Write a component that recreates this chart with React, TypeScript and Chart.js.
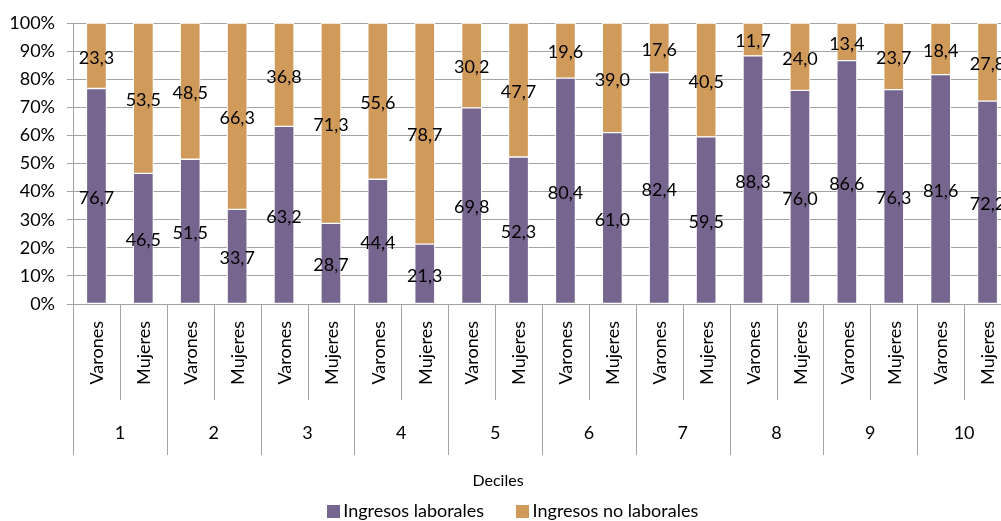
import React, { useEffect, useRef } from 'react';
import { Chart, registerables } from 'chart.js';

Chart.register(...registerables);

// ---- data ----
const deciles = ['1', '2', '3', '4', '5', '6', '7', '8', '9', '10'];
const sexes = ['Varones', 'Mujeres'];
const categoryLabels = deciles.flatMap(() => sexes);
const categoryDeciles = deciles.flatMap((d) => sexes.map(() => d));
const ingresosLaborales = [
  76.7, 46.5, 51.5, 33.7, 63.2, 28.7, 44.4, 21.3, 69.8, 52.3,
  80.4, 61.0, 82.4, 59.5, 88.3, 76.0, 86.6, 76.3, 81.6, 72.2,
];
const ingresosNoLaborales = [
  23.3, 53.5, 48.5, 66.3, 36.8, 71.3, 55.6, 78.7, 30.2, 47.7,
  19.6, 39.0, 17.6, 40.5, 11.7, 24.0, 13.4, 23.7, 18.4, 27.8,
];
const seriesNames = ['Ingresos laborales', 'Ingresos no laborales'];
const xAxisTitle = 'Deciles';
const yTickStep = 10;

// ---- styles ----
const PURPLE = '#76668F';
const TAN = '#D09A5B';
const GRID = '#a3a3a3';
const FONT = 'Lato, "Open Sans", sans-serif';
const TEXT = '#000000';

const fmt = (v: number) => v.toFixed(1).replace('.', ',');

const customPlugin = {
  id: 'customDraw',
  afterDatasetsDraw(chart: any) {
    const ctx = chart.ctx;
    ctx.save();
    ctx.font = `18px ${FONT}`;
    ctx.fillStyle = TEXT;
    ctx.textAlign = 'center';
    ctx.textBaseline = 'middle';
    chart.data.datasets.forEach((ds: any, i: number) => {
      const meta = chart.getDatasetMeta(i);
      meta.data.forEach((bar: any, j: number) => {
        const { x, y, base } = bar.getProps(['x', 'y', 'base'], true);
        ctx.fillText(fmt(ds.data[j]), x, (y + base) / 2 + 2);
      });
    });
    ctx.restore();
  },
  afterDraw(chart: any) {
    const { ctx, chartArea } = chart;
    const labels: string[] = chart.data.labels;
    const n = labels.length;
    const catW = (chartArea.right - chartArea.left) / n;
    const bottom = chartArea.bottom;
    ctx.save();
    // separators
    ctx.strokeStyle = GRID;
    ctx.lineWidth = 1;
    for (let k = 0; k <= n; k++) {
      const px = Math.round(chartArea.left + k * catW) + 0.5;
      const len = k % 2 === 0 ? 151 : 96;
      ctx.beginPath();
      ctx.moveTo(px, bottom);
      ctx.lineTo(px, bottom + len);
      ctx.stroke();
    }
    // rotated category labels
    ctx.fillStyle = TEXT;
    ctx.font = `18px ${FONT}`;
    ctx.textBaseline = 'middle';
    ctx.textAlign = 'right';
    for (let k = 0; k < n; k++) {
      const cx = chartArea.left + (k + 0.5) * catW;
      ctx.save();
      ctx.translate(cx + 1, bottom + 17);
      ctx.rotate(-Math.PI / 2);
      ctx.fillText(labels[k], 0, 0);
      ctx.restore();
    }
    // group labels
    ctx.textAlign = 'center';
    for (let g = 0; g < deciles.length; g++) {
      const cx = chartArea.left + (g * 2 + 1) * catW;
      ctx.fillText(categoryDeciles[g * 2], cx, bottom + 129);
    }
    // axis title
    ctx.font = `16px ${FONT}`;
    ctx.fillText(xAxisTitle, 498, 481);
    // legend
    ctx.font = `18px ${FONT}`;
    const box = 13;
    const gap = 3.5;
    const spacing = 32;
    const colors = [PURPLE, TAN];
    const widths = seriesNames.map((s) => ctx.measureText(s).width);
    const total = widths.reduce((a, w) => a + box + gap + w, 0) + spacing;
    let lx = 512.5 - total / 2;
    const ly = 511.5;
    ctx.textAlign = 'left';
    seriesNames.forEach((s, i) => {
      ctx.fillStyle = colors[i];
      ctx.fillRect(Math.round(lx), Math.round(ly - box / 2), box, box);
      ctx.fillStyle = TEXT;
      ctx.fillText(s, lx + box + gap, ly);
      lx += box + gap + widths[i] + spacing;
    });
    ctx.restore();
  },
};

export default function App() {
  const ref = useRef<HTMLCanvasElement>(null);
  useEffect(() => {
    if (!ref.current) return;
    Chart.defaults.font.family = FONT;
    const chart = new Chart(ref.current, {
      type: 'bar',
      data: {
        labels: categoryLabels,
        datasets: [
          {
            label: seriesNames[0],
            data: ingresosLaborales,
            backgroundColor: PURPLE,
            borderColor: '#ffffff',
            borderWidth: 1,
            borderSkipped: false,
            barThickness: 20,
          },
          {
            label: seriesNames[1],
            data: ingresosNoLaborales,
            backgroundColor: TAN,
            borderColor: '#ffffff',
            borderWidth: 1,
            borderSkipped: false,
            barThickness: 20,
          },
        ],
      },
      options: {
        responsive: false,
        animation: false,
        layout: { padding: { top: 23, bottom: 197, right: 13, left: 0 } },
        plugins: {
          legend: { display: false },
          tooltip: { enabled: false },
        },
        scales: {
          x: {
            stacked: true,
            grid: { display: false },
            border: { display: true, color: GRID },
            ticks: { display: false },
            afterFit: (scale: any) => {
              scale.height = 20;
            },
          },
          y: {
            stacked: true,
            min: 0,
            max: 100,
            grid: { color: GRID, tickLength: 6, lineWidth: 1 },
            border: { display: true, color: GRID },
            ticks: {
              stepSize: yTickStep,
              padding: 12,
              color: TEXT,
              font: { size: 18, family: FONT },
              callback: (v: any) => `${v}%`,
            },
            afterFit: (scale: any) => {
              scale.width = 73;
            },
          },
        },
      },
      plugins: [customPlugin],
    });
    return () => chart.destroy();
  }, []);
  return (
    <div
      style={{
        position: 'fixed',
        left: 0,
        top: 0,
        width: 1001,
        height: 521,
        overflow: 'hidden',
        background: '#fff',
      }}
    >
      <canvas ref={ref} width={1024} height={521} style={{ width: 1024, height: 521 }} />
    </div>
  );
}
